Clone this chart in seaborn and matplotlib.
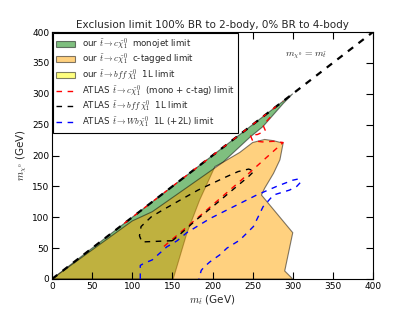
import numpy as np
import pandas as pd
import matplotlib
matplotlib.use("Agg")
import matplotlib.pyplot as plt
import matplotlib.patches as mpatches
import seaborn as sns

# our limits (polygons, GeV)
mono_x = [0, 300, 288, 263, 247, 213, 203, 184, 168, 151]
mono_y = [0, 300, 284, 247, 230, 189, 182, 128, 74, 0]
ctag_x = [0, 100, 125, 213, 234, 250, 265, 276, 288, 284, 276, 265, 261, 300, 290, 300]
ctag_y = [0, 94, 109, 189, 205, 221, 226, 224, 220, 193, 171, 147, 136, 75, 13, 0]
onel_x = []
onel_y = []

# ATLAS contours
diag_x = [0, 400]
diag_y = [0, 400]
atlas_c_diag_x = [90, 288]
atlas_c_diag_y = [90, 288]
atlas_c_x = [272, 263, 266, 256, 247, 250, 262, 276, 288, 234, 185, 137]
atlas_c_y = [262, 249, 240, 234, 233, 224, 222, 223, 221, 158, 103, 50]
atlas_bff_x = [150, 112, 109, 111, 124, 141, 160, 182, 218, 232, 245, 252, 245, 222, 201, 180, 160, 150]
atlas_bff_y = [62, 60, 70, 85, 101, 114, 128, 144, 166, 174, 178, 175, 166, 141, 118, 96, 73, 62]
atlas_wb_x = [110, 110, 114, 125, 137, 143, 156, 168, 197, 226, 255, 280, 300, 307, 310, 305, 296, 276, 263,
              251, 234, 218, 209, 197, 190, 186, 183]
atlas_wb_y = [0, 22, 25, 31, 45, 52, 62, 75, 98, 117, 136, 150, 160, 162, 157, 150, 144, 136, 117,
              85, 63, 50, 39, 28, 20, 14, 0]

labels = [r"our $\tilde{t}\rightarrow c\tilde{\chi}^0_1$  monojet limit",
          r"our $\tilde{t}\rightarrow c\tilde{\chi}^0_1$  c-tagged limit",
          r"our $\tilde{t}\rightarrow bff\,\tilde{\chi}^0_1$  1L limit",
          r"ATLAS $\tilde{t}\rightarrow c\tilde{\chi}^0_1$  (mono + c-tag) limit",
          r"ATLAS $\tilde{t}\rightarrow bff\,\tilde{\chi}^0_1$  1L limit",
          r"ATLAS $\tilde{t}\rightarrow Wb\tilde{\chi}^0_1$  1L (+2L) limit"]

sns.set_style("ticks")
plt.rcParams.update({
    "mathtext.fontset": "cm",
    "font.family": ["DejaVu Sans"],
    "axes.axisbelow": False,
    "xtick.direction": "in", "ytick.direction": "in",
    "xtick.top": True, "xtick.bottom": True, "ytick.left": True, "ytick.right": True,
    "xtick.major.size": 5, "ytick.major.size": 5,
    "xtick.major.width": 0.8, "ytick.major.width": 0.8,
    "xtick.color": "k", "ytick.color": "k",
    "axes.edgecolor": "k", "axes.linewidth": 0.8,
})

fig = plt.figure(figsize=(4.15, 3.12), dpi=100)
ax = fig.add_axes([0.1253, 0.1058, 0.7735, 0.7916])
ax.set_axisbelow(False)

ax.fill(mono_x, mono_y, facecolor="g", edgecolor="k", alpha=0.5, lw=0.8)
ax.fill(ctag_x, ctag_y, facecolor="orange", edgecolor="k", alpha=0.5, lw=0.8)
if len(onel_x):
    ax.fill(onel_x, onel_y, facecolor="yellow", edgecolor="k", alpha=0.5, lw=0.8)


def dline(x, y, color, lw=1.0, dashes=(4, 4)):
    d = pd.DataFrame({"x": x, "y": y})
    sns.lineplot(data=d, x="x", y="y", sort=False, estimator=None, color=color, lw=lw, ax=ax,
                 dashes=False, linestyle=(0, dashes))


dline(diag_x, diag_y, "k", lw=1.6, dashes=(3, 3))
dline(atlas_c_diag_x, atlas_c_diag_y, "r", lw=1.0, dashes=(3, 6))
dline(atlas_c_x, atlas_c_y, "r", lw=1.0)
dline(atlas_bff_x, atlas_bff_y, "k", lw=1.0)
dline(atlas_wb_x, atlas_wb_y, "b", lw=1.0)

ax.text(290, 360, r"$m_{\chi^0}\,=m_{\tilde{t}}$", fontsize=7)

ax.set_xlim(0, 400)
ax.set_ylim(0, 400)
ax.set_xticks(np.arange(0, 401, 50))
ax.set_yticks(np.arange(0, 401, 50))
ax.tick_params(axis="both", which="major", direction="in", bottom=True, left=True, top=True, right=True,
               labelsize=6.5, length=5, width=0.8, pad=2, color="k")
ax.xaxis.set_ticks_position("both")
ax.yaxis.set_ticks_position("both")
ax.set_xlabel(r"$m_{\tilde{t}}$ (GeV)", fontsize=7.5, labelpad=2)
ax.set_ylabel(r"$m_{\chi^0}$ (GeV)", fontsize=7.5, labelpad=2)
ax.set_title("Exclusion limit 100% BR to 2-body, 0% BR to 4-body", fontsize=7.5, pad=3)

handles = [mpatches.Patch(facecolor="g", edgecolor="k", alpha=0.5, lw=0.8),
           mpatches.Patch(facecolor="orange", edgecolor="k", alpha=0.5, lw=0.8),
           mpatches.Patch(facecolor="yellow", edgecolor="k", alpha=0.5, lw=0.8),
           plt.Line2D([], [], color="r", ls=(0, (4, 4)), lw=1.0),
           plt.Line2D([], [], color="k", ls=(0, (4, 4)), lw=1.0),
           plt.Line2D([], [], color="b", ls=(0, (4, 4)), lw=1.0)]
leg = ax.legend(handles, labels, loc="upper left", fontsize=6.2, frameon=True, fancybox=False,
                edgecolor="k", framealpha=1, borderpad=0.35, labelspacing=0.05, handlelength=2.2,
                handleheight=0.7, borderaxespad=0.15)
leg.get_frame().set_linewidth(0.8)

fig.savefig("out.png", dpi=100)
